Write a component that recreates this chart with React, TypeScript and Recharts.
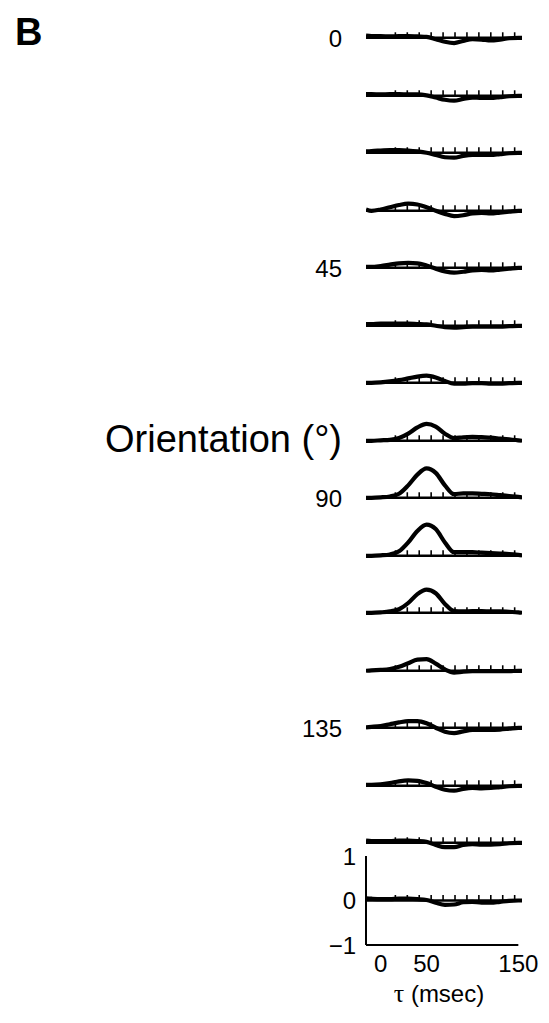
import React from "react";
import {
  ComposedChart,
  Line,
  Scatter,
  XAxis,
  YAxis,
  ReferenceLine,
} from "recharts";

// Time lag (ms) at which each kernel is sampled
const TAU = [-16, -10, 0, 10, 20, 30, 40, 50, 60, 70, 80, 90, 100, 110, 120, 130, 140, 150, 154];

// Orientation of each row (degrees) and the labels shown beside them
const ORIENTATIONS = [0, 11.25, 22.5, 33.75, 45, 56.25, 67.5, 78.75, 90, 101.25, 112.5, 123.75, 135, 146.25, 157.5, 168.75];
const ORIENTATION_LABELS = ["0", "", "", "", "45", "", "", "", "90", "", "", "", "135", "", "", ""];

// Kernel amplitude per orientation, one value per TAU sample
const k000 = [0.05, 0.04, 0.04, 0.03, 0.04, 0.04, 0.03, 0.02, -0.03, -0.09, -0.12, -0.07, -0.03, -0.04, -0.06, -0.04, -0.01, 0, 0];
const k011 = [0.04, 0.04, 0.03, 0.04, 0.04, 0.03, 0.03, 0.01, -0.04, -0.09, -0.11, -0.07, -0.04, -0.05, -0.05, -0.03, -0.01, 0, 0];
const k022 = [0.03, 0.04, 0.05, 0.06, 0.06, 0.05, 0.03, 0.0, -0.05, -0.1, -0.11, -0.07, -0.05, -0.05, -0.05, -0.03, -0.01, 0, 0];
const k034 = [0.03, 0.0, 0.03, 0.08, 0.13, 0.16, 0.14, 0.08, 0.0, -0.07, -0.12, -0.1, -0.06, -0.05, -0.06, -0.04, -0.02, 0, 0];
const k045 = [0.02, 0.02, 0.04, 0.07, 0.1, 0.11, 0.1, 0.05, -0.02, -0.08, -0.11, -0.09, -0.06, -0.05, -0.06, -0.04, -0.02, 0, 0];
const k056 = [0.04, 0.04, 0.05, 0.05, 0.05, 0.05, 0.04, 0.03, 0.0, -0.03, -0.04, -0.03, -0.02, -0.02, -0.02, -0.02, -0.01, 0, 0];
const k068 = [0, 0, 0.01, 0.03, 0.06, 0.1, 0.14, 0.16, 0.12, 0.04, -0.02, -0.02, -0.01, -0.01, -0.02, -0.02, -0.01, 0, 0];
const k079 = [0, 0, 0.01, 0.02, 0.06, 0.16, 0.3, 0.38, 0.32, 0.16, 0.06, 0.08, 0.09, 0.08, 0.07, 0.05, 0.03, 0.01, 0];
const k090 = [0, 0, 0.01, 0.03, 0.09, 0.28, 0.52, 0.66, 0.56, 0.28, 0.08, 0.1, 0.1, 0.09, 0.08, 0.06, 0.04, 0.02, 0.01];
const k101 = [0, 0, 0.01, 0.03, 0.1, 0.3, 0.56, 0.7, 0.6, 0.3, 0.08, 0.08, 0.08, 0.07, 0.06, 0.05, 0.04, 0.02, 0.01];
const k112 = [0, 0, 0.01, 0.03, 0.08, 0.22, 0.42, 0.52, 0.44, 0.2, 0.04, 0.03, 0.04, 0.04, 0.03, 0.03, 0.02, 0.01, 0];
const k124 = [0, 0.01, 0.02, 0.04, 0.09, 0.17, 0.25, 0.26, 0.16, 0.03, -0.04, -0.02, -0.01, -0.01, -0.01, -0.01, -0.01, 0, 0];
const k135 = [0.01, 0.02, 0.04, 0.08, 0.12, 0.15, 0.15, 0.1, 0.0, -0.09, -0.12, -0.08, -0.05, -0.05, -0.05, -0.04, -0.02, 0, 0];
const k146 = [0.02, 0.02, 0.03, 0.06, 0.1, 0.12, 0.11, 0.06, -0.02, -0.09, -0.11, -0.07, -0.05, -0.06, -0.05, -0.03, -0.01, 0, 0];
const k158 = [0.05, 0.04, 0.04, 0.04, 0.05, 0.05, 0.04, 0.02, -0.05, -0.1, -0.1, -0.05, -0.03, -0.04, -0.04, -0.03, -0.01, 0, 0];
const k169 = [0.05, 0.04, 0.03, 0.03, 0.04, 0.04, 0.03, 0.01, -0.05, -0.1, -0.09, -0.04, -0.03, -0.05, -0.05, -0.03, -0.01, 0, 0];

const KERNELS = [k000, k011, k022, k034, k045, k056, k068, k079, k090, k101, k112, k124, k135, k146, k158, k169];

// Lags of the small dotted time marks on each baseline
const TICK_TAUS = [16, 29, 42, 55, 68, 81, 94, 107, 120, 133, 146];

// Axis ticks of the scale panel
const X_TICKS = [0, 50, 150];
const Y_TICKS = [-1, 0, 1];

const FONT = "'Liberation Sans', Arial, Helvetica, sans-serif";
const W = 549;
const H = 1023;
const PLOT_LEFT = 366;
const PLOT_RIGHT_MARGIN = 27;
const X_DOMAIN: [number, number] = [-16, 154];
const ROW_SPACING = 57.5;
const FIRST_BASELINE = 38;
const ROW_H = 60;
const ROW_DOMAIN: [number, number] = [-0.5, 0.85];
const ROW_BASE_OFFSET = (ROW_DOMAIN[1] / (ROW_DOMAIN[1] - ROW_DOMAIN[0])) * ROW_H;

const tickMarks = TICK_TAUS.map((t) => ({ t, v: 0 }));

const rowData = (vals: number[]) => TAU.map((t, i) => ({ t, v: vals[i] }));

const TickMark = (p: any) => (
  <line x1={p.cx} y1={p.cy} x2={p.cx} y2={p.cy - 5.5} stroke="#000" strokeWidth={1.6} />
);

function KernelSeries({ data }: { data: { t: number; v: number }[] }) {
  return (
    <>
      <ReferenceLine y={0} stroke="#000" strokeWidth={2.6} ifOverflow="visible" />
      <Scatter data={tickMarks} dataKey="v" shape={TickMark} isAnimationActive={false} />
      <Line
        data={data}
        dataKey="v"
        type="monotone"
        stroke="#000"
        strokeWidth={4.2}
        dot={false}
        isAnimationActive={false}
      />
    </>
  );
}

function Row({ index }: { index: number }) {
  const baseline = FIRST_BASELINE + index * ROW_SPACING;
  const data = rowData(KERNELS[index]);
  return (
    <div style={{ position: "absolute", left: 0, top: baseline - ROW_BASE_OFFSET }}>
      <ComposedChart
        width={W}
        height={ROW_H}
        data={data}
        margin={{ top: 0, right: PLOT_RIGHT_MARGIN, bottom: 0, left: PLOT_LEFT }}
      >
        <XAxis type="number" dataKey="t" domain={X_DOMAIN} hide allowDataOverflow />
        <YAxis type="number" domain={ROW_DOMAIN} hide allowDataOverflow />
        {KernelSeries({ data })}
      </ComposedChart>
    </div>
  );
}

function ScaleRow() {
  const index = ORIENTATIONS.length - 1;
  const data = rowData(KERNELS[index]);
  return (
    <div style={{ position: "absolute", left: 0, top: 840 }}>
      <ComposedChart
        width={W}
        height={175}
        data={data}
        margin={{ top: 16, right: PLOT_RIGHT_MARGIN, bottom: 0, left: 0 }}
      >
        <XAxis
          type="number"
          dataKey="t"
          domain={X_DOMAIN}
          ticks={X_TICKS}
          allowDataOverflow
          axisLine={false}
          tickLine={false}
          tickMargin={4}
          height={70}
          tick={{ fontSize: 24, fill: "#000", fontFamily: FONT }}
          label={{
            content: (props: any) => {
              const vb = props.viewBox;
              return (
                <text
                  x={vb.x + vb.width / 2 - 5}
                  y={vb.y + 57}
                  textAnchor="middle"
                  fontSize={24}
                  fontFamily={FONT}
                  fill="#000"
                >
                  <tspan fontFamily="'Liberation Serif', 'DejaVu Serif', serif" fontSize={26}>τ</tspan>
                  <tspan> (msec)</tspan>
                </text>
              );
            },
          }}
        />
        <YAxis
          type="number"
          domain={[-1, 1]}
          ticks={Y_TICKS}
          width={PLOT_LEFT}
          axisLine={{ stroke: "#000", strokeWidth: 2 }}
          tickLine={false}
          tickMargin={4}
          tick={{ fontSize: 24, fill: "#000", fontFamily: FONT }}
          tickFormatter={(v: number) => (v < 0 ? "\u2212" + Math.abs(v) : String(v))}
        />
        <ReferenceLine
          segment={[{ x: X_DOMAIN[0], y: -1 }, { x: 150, y: -1 }]}
          stroke="#000"
          strokeWidth={2}
          ifOverflow="visible"
        />
        {KernelSeries({ data })}
      </ComposedChart>
    </div>
  );
}

export default function App() {
  return (
    <div style={{ position: "absolute", left: 0, top: 0, width: W, height: H, background: "#fff" }}>
      <svg width={W} height={H} style={{ position: "absolute", left: 0, top: 0 }}>
        <text x={15} y={45} fontSize={38} fontWeight="bold" fontFamily={FONT} fill="#000">
          B
        </text>
        <text x={342} y={452} fontSize={38} textAnchor="end" fontFamily={FONT} fill="#000">
          Orientation (°)
        </text>
        {ORIENTATION_LABELS.map((lab, i) =>
          lab ? (
            <text
              key={ORIENTATIONS[i]}
              x={342}
              y={FIRST_BASELINE + i * ROW_SPACING + 8.6}
              fontSize={24}
              textAnchor="end"
              fontFamily={FONT}
              fill="#000"
            >
              {lab}
            </text>
          ) : null
        )}
      </svg>
      {ORIENTATIONS.slice(0, -1).map((o, i) => (
        <Row key={o} index={i} />
      ))}
      <ScaleRow />
    </div>
  );
}
